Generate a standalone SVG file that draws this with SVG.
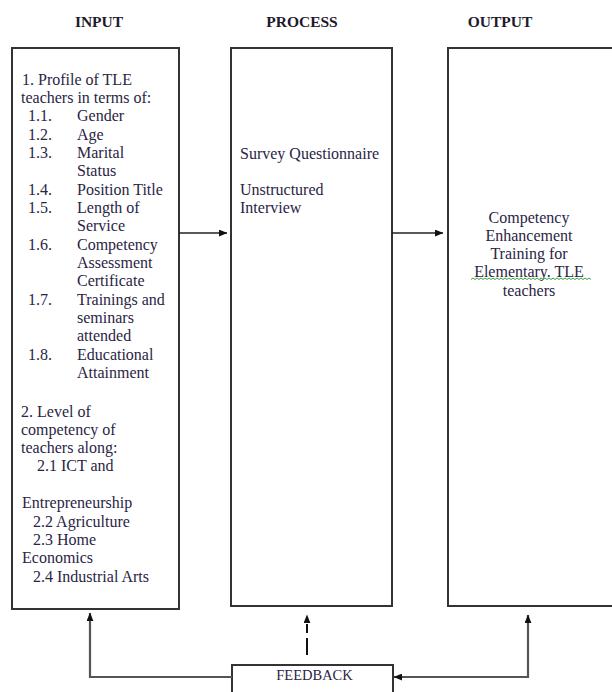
<svg xmlns="http://www.w3.org/2000/svg" width="612" height="692" viewBox="0 0 612 692">
<style>
.hdr{font-family:"Liberation Serif","Times New Roman",serif;font-weight:bold;font-size:15.5px;fill:#1e1a2e;text-anchor:middle}
.t{font-family:"Liberation Serif","Times New Roman",serif;font-size:16px;fill:#2a2545}
.c{text-anchor:middle}
.box{fill:#fff;stroke:#333;stroke-width:2}
.ln{fill:none;stroke:#222;stroke-width:1.6}
.fb{fill:none;stroke:#555;stroke-width:2.2}
</style>
<defs>
<marker id="ah" viewBox="0 0 10 8" refX="9.5" refY="4" markerWidth="9" markerHeight="7" markerUnits="userSpaceOnUse" orient="auto-start-reverse">
<path d="M0,0 L10,4 L0,8 Z" fill="#111"/>
</marker>
</defs>
<text class="hdr" x="99" y="27">INPUT</text>
<text class="hdr" x="302" y="27">PROCESS</text>
<text class="hdr" x="500" y="27">OUTPUT</text>

<g id="input">
<rect class="box" x="12" y="48" width="167" height="561"/>
<text class="t" x="22" y="85">1. Profile of TLE</text>
<text class="t" x="21" y="103">teachers in terms of:</text>
<text class="t" x="28" y="121">1.1.</text><text class="t" x="77" y="121">Gender</text>
<text class="t" x="28" y="140">1.2.</text><text class="t" x="77" y="140">Age</text>
<text class="t" x="28" y="158">1.3.</text><text class="t" x="77" y="158">Marital</text>
<text class="t" x="77" y="176">Status</text>
<text class="t" x="28" y="195">1.4.</text><text class="t" x="77" y="195">Position Title</text>
<text class="t" x="28" y="213">1.5.</text><text class="t" x="77" y="213">Length of</text>
<text class="t" x="77" y="231">Service</text>
<text class="t" x="28" y="250">1.6.</text><text class="t" x="77" y="250">Competency</text>
<text class="t" x="77" y="268">Assessment</text>
<text class="t" x="77" y="286">Certificate</text>
<text class="t" x="28" y="305">1.7.</text><text class="t" x="77" y="305">Trainings and</text>
<text class="t" x="77" y="323">seminars</text>
<text class="t" x="77" y="341">attended</text>
<text class="t" x="28" y="360">1.8.</text><text class="t" x="77" y="360">Educational</text>
<text class="t" x="77" y="378">Attainment</text>
<text class="t" x="21" y="417">2. Level of</text>
<text class="t" x="21" y="435">competency of</text>
<text class="t" x="21" y="453">teachers along:</text>
<text class="t" x="37" y="471">2.1 ICT and</text>
<text class="t" x="22" y="508">Entrepreneurship</text>
<text class="t" x="33" y="527">2.2 Agriculture</text>
<text class="t" x="33" y="545">2.3 Home</text>
<text class="t" x="22" y="563">Economics</text>
<text class="t" x="33" y="582">2.4 Industrial Arts</text>
</g>

<g id="process">
<rect class="box" x="231" y="48" width="161" height="558"/>
<text class="t" x="240" y="159">Survey Questionnaire</text>
<text class="t" x="240" y="195">Unstructured</text>
<text class="t" x="240" y="213">Interview</text>
</g>

<g id="output">
<rect class="box" x="448" y="48" width="180" height="558"/>
<text class="t c" x="529" y="223">Competency</text>
<text class="t c" x="529" y="241">Enhancement</text>
<text class="t c" x="529" y="259">Training for</text>
<text class="t c" x="529" y="277">Elementary. TLE</text>
<path d="M471,279.5 l2,-1.5 l2,1.5 l2,-1.5 l2,1.5 l2,-1.5 l2,1.5 l2,-1.5 l2,1.5 l2,-1.5 l2,1.5 l2,-1.5 l2,1.5 l2,-1.5 l2,1.5 l2,-1.5 l2,1.5 l2,-1.5 l2,1.5 l2,-1.5 l2,1.5 l2,-1.5 l2,1.5 l2,-1.5 l2,1.5 l2,-1.5 l2,1.5 l2,-1.5 l2,1.5 l2,-1.5 l2,1.5 l2,-1.5 l2,1.5 l2,-1.5 l2,1.5 l2,-1.5 l2,1.5 l2,-1.5 l2,1.5 l2,-1.5 l2,1.5 l2,-1.5 l2,1.5 l2,-1.5 l2,1.5 l2,-1.5 l2,1.5 l2,-1.5 l2,1.5 l2,-1.5 l2,1.5 l2,-1.5 l2,1.5 l2,-1.5 l2,1.5 l2,-1.5 l2,1.5 l2,-1.5 l2,1.5 l2,-1.5 l2,1.5" fill="none" stroke="#3aa53a" stroke-width="1"/>
<text class="t c" x="529" y="296">teachers</text>
</g>

<g id="feedback">
<rect class="box" x="232" y="665" width="161" height="40"/>
<text class="t c" x="314.5" y="680" style="font-size:14.5px">FEEDBACK</text>
</g>

<g id="connectors">
<line class="ln" x1="179" y1="233" x2="227" y2="233" marker-end="url(#ah)"/>
<line class="ln" x1="392" y1="233" x2="443" y2="233" marker-end="url(#ah)"/>
<polyline class="fb" points="232,677 90,677 90,613" marker-end="url(#ah)"/>
<line x1="307" y1="655" x2="307" y2="615" stroke="#111" stroke-width="2" stroke-dasharray="17,5,9,20" marker-end="url(#ah)"/>
<polyline class="fb" points="394,677 528,677 528,615" marker-start="url(#ah)" marker-end="url(#ah)"/>
</g>
</svg>
